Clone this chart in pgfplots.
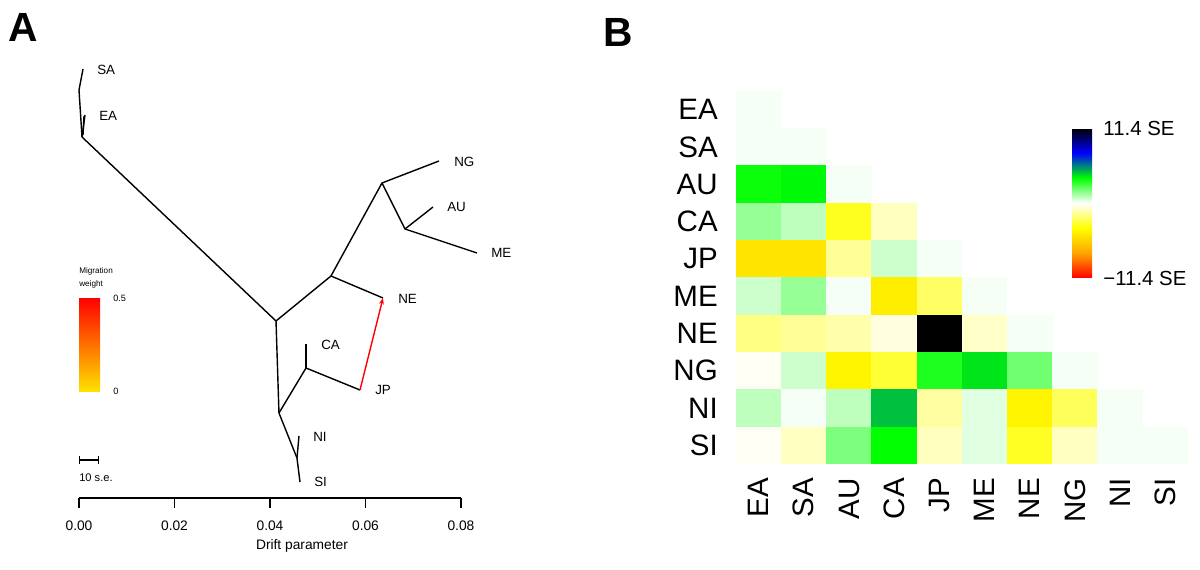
\documentclass[border=0pt]{standalone}
\usepackage{fontspec}
\setmainfont{Liberation Sans}
\usepackage{pgfplots}
\pgfplotsset{compat=1.18}
\usetikzlibrary{arrows.meta}

% one heatmap cell, 45.2 x 37.3 px of the reference (1 px = 0.25mm)
\pgfdeclareplotmark{cell}{%
  \pgfpathrectangle{\pgfpoint{-5.7mm}{-4.7mm}}{\pgfpoint{11.4mm}{9.4mm}}%
  \pgfusepathqfill}

\pgfplotsset{
  colormap={resid}{rgb255(0cm)=(255,0,0) rgb255(1cm)=(255,165,0)
    rgb255(2cm)=(255,255,0) rgb255(3cm)=(255,255,255) rgb255(4cm)=(0,255,0)
    rgb255(5cm)=(0,0,255) rgb255(6cm)=(0,0,0)},
  br/.style={black, solid, no markers, line width=1pt, line join=round},
}

\begin{document}
\begin{tikzpicture}

% ---------------- A: tree ----------------
\begin{axis}[
    at={(19.75mm,17.75mm)}, anchor=south west,
    width=95.5mm, height=107.25mm, scale only axis,
    xmin=0, xmax=0.08, ymin=71, ymax=500,
    clip=false,
    axis x line*=bottom, axis y line=none,
    x axis line style={-, line width=0.8pt},
    xtick={0,0.02,0.04,0.06,0.08},
    xticklabels={0.00,0.02,0.04,0.06,0.08},
    scaled x ticks=false,
    tick align=outside, major tick length=2.5mm,
    tick style={line width=0.8pt, black},
    xticklabel style={font=\fontsize{9.8}{12}\selectfont, anchor=north, inner sep=0pt, yshift=-3.2mm},
]
% branches (drift, vertical position)
\addplot[br] coordinates {(0.00084,500) (0,479) (0.00063,432) (0.04126,248)};
\addplot[br] coordinates {(0.00126,454) (0.00063,432)};
\addplot[br] coordinates {(0.00105,453) (0.00084,434)};
\addplot[br] coordinates {(0.04126,248) (0.05277,293) (0.06345,386) (0.07539,408)};
\addplot[br] coordinates {(0.05277,293) (0.06366,271)};
\addplot[br] coordinates {(0.06345,386) (0.06827,340) (0.08335,316)};
\addplot[br] coordinates {(0.06827,340) (0.07414,362)};
\addplot[br] coordinates {(0.04126,248) (0.04188,156) (0.04565,111) (0.04628,87)};
\addplot[br] coordinates {(0.04565,111) (0.04607,133)};
\addplot[br] coordinates {(0.04188,156) (0.04754,201) (0.05885,179)};
\addplot[br] coordinates {(0.04754,201) (0.04754,225)};
% migration edge JP -> NE
\addplot[red, solid, no markers, line width=1pt, -{Stealth[length=1.6mm,width=1.2mm]}] coordinates {(0.05885,179) (0.06366,271)};

\begin{scope}[every node/.style={font=\fontsize{9.5}{11}\selectfont, anchor=west, inner sep=0pt}]
\node at (axis cs:0.00377,499) {SA};
\node at (axis cs:0.00419,453) {EA};
\node at (axis cs:0.07853,407) {NG};
\node at (axis cs:0.07707,362) {AU};
\node at (axis cs:0.08628,316) {ME};
\node at (axis cs:0.06681,270) {NE};
\node at (axis cs:0.05068,224) {CA};
\node at (axis cs:0.06199,179) {JP};
\node at (axis cs:0.04901,132) {NI};
\node at (axis cs:0.04921,87) {SI};
\end{scope}

% migration weight key
\shade[bottom color={rgb,255:red,255;green,225;blue,0}, top color=red]
  (axis cs:0,178) rectangle (axis cs:0.0044,271);
\begin{scope}[every node/.style={anchor=west, inner sep=0pt}]
\node[font=\fontsize{5.8}{7}\selectfont] at (axis cs:0,298) {Migration};
\node[font=\fontsize{5.8}{7}\selectfont] at (axis cs:0,285) {weight};
\node[font=\fontsize{6.5}{8}\selectfont] at (axis cs:0.00712,271) {0.5};
\node[font=\fontsize{6.5}{8}\selectfont] at (axis cs:0.00712,178) {0};
% scale bar
\draw[line width=0.8pt, {|[width=2mm]}-{|[width=2mm]}] (axis cs:0,109) -- (axis cs:0.0042,109);
\node[font=\fontsize{7.9}{9}\selectfont] at (axis cs:0,91) {10 s.e.};
\end{scope}
\node[font=\fontsize{9.8}{12}\selectfont] at (axis cs:0.0467,23) {Drift parameter};
\end{axis}

% ---------------- B: residual heatmap ----------------
\begin{axis}[
    at={(184mm,26.25mm)}, anchor=south west,
    width=113mm, height=93.25mm, scale only axis,
    xmin=0.5, xmax=10.5, ymin=0.5, ymax=10.5,
    clip=false,
    axis line style={draw=none},
    major tick length=0pt, tick style={draw=none},
    xtick={1,...,10}, ytick={1,...,10},
    xticklabels={EA,SA,AU,CA,JP,ME,NE,NG,NI,SI},
    yticklabels={SI,NI,NG,NE,ME,JP,CA,AU,SA,EA},
    yticklabel style={font=\fontsize{21}{24}\selectfont, anchor=east, inner sep=0pt, xshift=-4.5mm},
    xticklabel style={font=\fontsize{21}{24}\selectfont, yshift=-3.5mm, rotate=90, anchor=east, inner sep=0pt},
    colormap name=resid,
    point meta min=-11.4, point meta max=11.4,
    colorbar,
    colorbar style={
        at={(parent axis.north west)}, anchor=north west,
        xshift=81mm, yshift=-9.25mm,
        scale only axis, enlargelimits=false,
        width=7.8mm, height=37.5mm,
        axis line style={draw=none},
        ytick={-11.4,11.4},
        yticklabels={−11.4 SE,11.4 SE},
        yticklabel pos=right,
        major tick length=0pt, tick style={draw=none},
        yticklabel style={font=\fontsize{14.5}{17}\selectfont, anchor=west, inner sep=0pt, xshift=0mm},
    },
]
\addplot[scatter, only marks, mark=cell, point meta=explicit,
    scatter/use mapped color={draw=none, fill=mapped color}]
  table[meta=v] {
x y v
1 10 0.15
1 9 0.15
2 9 0.15
1 8 3.65
2 8 3.9
3 8 0.15
1 7 1.57
2 7 0.97
3 7 -3.35
4 7 -0.97
1 6 -4.9
2 6 -4.9
3 6 -1.57
4 6 0.75
5 6 0.15
1 5 0.75
2 5 1.57
3 5 0.15
4 5 -4.5
5 5 -2.3
6 5 0.15
1 4 -1.86
2 4 -1.57
3 4 -1.27
4 4 -0.45
5 4 11.4
6 4 -0.82
7 4 0.15
1 3 -0.15
2 3 0.75
3 3 -4.2
4 3 -3.0
5 3 3.35
6 3 4.2
7 3 2.16
8 3 0.15
1 2 0.97
2 2 0.15
3 2 0.97
4 2 4.75
5 2 -1.4
6 2 0.45
7 2 -4.2
8 2 -2.46
9 2 0.15
1 1 -0.15
2 1 -0.9
3 1 1.94
4 1 3.8
5 1 -0.97
6 1 0.45
7 1 -3.28
8 1 -0.9
9 1 0.15
10 1 0.15
};
\end{axis}

\node[font=\bfseries\fontsize{29}{32}\selectfont] at (5.875mm,135.5mm) {A};
\node[font=\bfseries\fontsize{29}{32}\selectfont] at (154.5mm,134.25mm) {B};

\pgfresetboundingbox
\path[use as bounding box] (0,0) rectangle (300mm,142.25mm);
\end{tikzpicture}
\end{document}
